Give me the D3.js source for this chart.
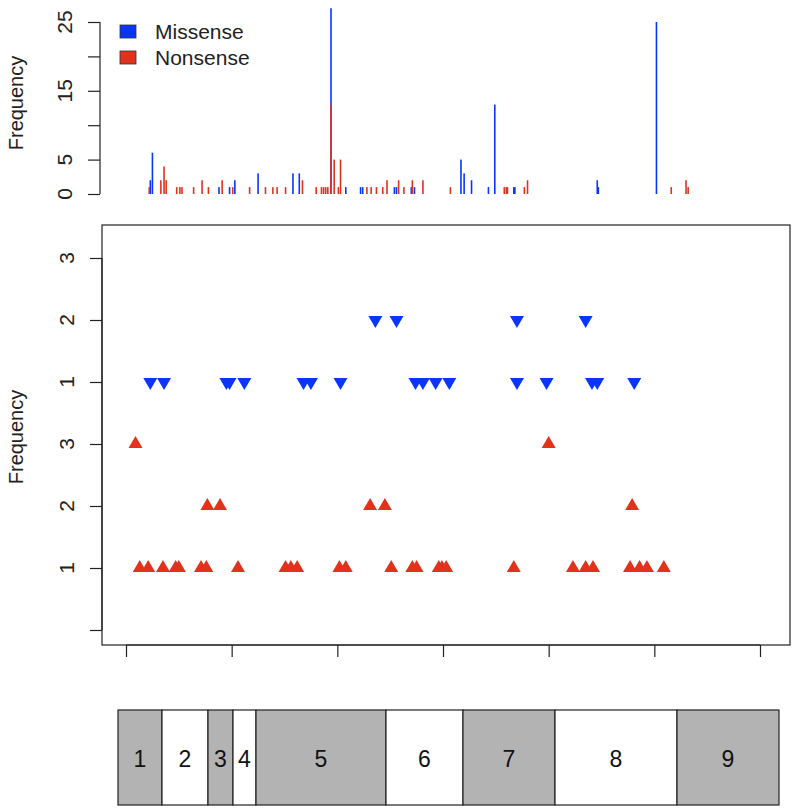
<!DOCTYPE html>
<html>
<head>
<meta charset="utf-8">
<script src="https://cdn.jsdelivr.net/npm/d3@7"></script>
<style>
  html, body { margin: 0; padding: 0; background: #fff; }
  svg { display: block; font-family: "Liberation Sans", Arial, Helvetica, sans-serif; }
</style>
</head>
<body>
<svg id="chart" width="800" height="811"></svg>
<script>
// ---------------- DATA ----------------
// Top panel: mutation frequencies by protein position
const missensePos  = [23, 25, 88, 98, 103, 125, 158, 164, 194, 208, 222, 224, 254, 256, 270, 273, 317, 320, 327, 343, 349, 367, 368, 446, 447, 502];
const missenseFreq = [2, 6, 1, 1, 2, 3, 3, 3, 27, 1, 1, 1, 1, 1, 1, 1, 5, 3, 2, 1, 13, 1, 1, 2, 1, 25];
const nonsensePos  = [22, 33, 36, 38, 48, 51, 53, 64, 72, 78, 91, 101, 117, 132, 139, 143, 151, 167, 180, 185, 187, 189, 191, 194, 197, 201, 203, 228, 232, 237, 243, 247, 258, 263, 271, 281, 307, 358, 360, 361, 377, 380, 516, 530, 532];
const nonsenseFreq = [1, 2, 4, 2, 1, 1, 1, 1, 2, 1, 2, 1, 1, 1, 1, 1, 1, 2, 1, 1, 1, 1, 1, 13, 5, 1, 5, 1, 1, 1, 1, 2, 2, 1, 2, 2, 1, 1, 1, 1, 1, 2, 1, 2, 1];
const topTicks      = [0, 5, 10, 15, 20, 25];
const topTickLabels = ["0", "5", "", "15", "", "25"];

// Middle panel: individual samples (position, frequency)
const missSamplePos  = [236, 256, 370, 435, 23, 36, 95, 98, 112, 168, 175, 203, 274, 281, 293, 306, 370, 398, 441, 446, 481];
const missSampleFreq = [2, 2, 2, 2, 1, 1, 1, 1, 1, 1, 1, 1, 1, 1, 1, 1, 1, 1, 1, 1, 1];
const nonSamplePos   = [9, 400, 77, 89, 231, 245, 479, 13, 21, 35, 47, 50, 71, 76, 106, 151, 156, 162, 202, 208, 251, 271, 275, 296, 299, 303, 367, 423, 435, 442, 477, 486, 493, 509];
const nonSampleFreq  = [3, 3, 2, 2, 2, 2, 2, 1, 1, 1, 1, 1, 1, 1, 1, 1, 1, 1, 1, 1, 1, 1, 1, 1, 1, 1, 1, 1, 1, 1, 1, 1, 1, 1];
const midTicks       = [0, 1, 2, 3, 4, 5, 6];
const midTickLabels  = ["", "1", "2", "3", "1", "2", "3"];
const xTicks         = [0, 100, 200, 300, 400, 500, 600];

// Bottom: exon structure
const exonNames   = ["1", "2", "3", "4", "5", "6", "7", "8", "9"];
const exonLengths = [44, 46, 25, 23, 130, 77, 92, 122, 102];

const legendLabels = ["Missense", "Nonsense"];

// ---------------- STYLE ----------------
const BLUE = "#0836ff";
const RED = "#e2321c";
const GRAY = "#b3b3b3";
const FONT = 20;
const TICKFONT = 21;

const svg = d3.select("#chart");

// shared x scale (positions)
const x = d3.scaleLinear().domain([0, 600]).range([126, 760]);

// ---------------- TOP PANEL ----------------
const yTop = d3.scaleLinear().domain([0, 25]).range([194, 22]);
const gTop = svg.append("g");

const topAxis = gTop.append("g").attr("transform", "translate(100,0)")
  .call(d3.axisLeft(yTop).tickValues(topTicks).tickSize(12).tickFormat(""));
topAxis.select(".domain").attr("d", `M0,${yTop(0)}V${yTop(25)}`).attr("stroke", "#222").attr("stroke-width", 1.2);
topAxis.selectAll(".tick line").attr("stroke", "#222").attr("stroke-width", 1.2);
gTop.selectAll("text.tl").data(topTicks).join("text")
  .attr("class", "tl")
  .attr("transform", d => `translate(72,${yTop(d)}) rotate(-90)`)
  .attr("text-anchor", "middle").attr("font-size", TICKFONT).attr("fill", "#222")
  .text((d, i) => topTickLabels[i]);

gTop.append("text")
  .attr("transform", `translate(23,103) rotate(-90)`)
  .attr("text-anchor", "middle").attr("font-size", FONT).attr("fill", "#222")
  .text("Frequency");

const missData = missensePos.map((p, i) => ({ p, f: missenseFreq[i] }));
const nonData = nonsensePos.map((p, i) => ({ p, f: nonsenseFreq[i] }));

gTop.selectAll("rect.mb").data(missData).join("rect")
  .attr("class", "mb")
  .attr("x", d => x(d.p) - 0.8).attr("width", 1.6)
  .attr("y", d => yTop(d.f)).attr("height", d => yTop(0) - yTop(d.f))
  .attr("fill", BLUE);
gTop.selectAll("rect.nb").data(nonData).join("rect")
  .attr("class", "nb")
  .attr("x", d => x(d.p) - 0.8).attr("width", 1.6)
  .attr("y", d => yTop(d.f)).attr("height", d => yTop(0) - yTop(d.f))
  .attr("fill", RED);

// legend
const leg = gTop.append("g");
[BLUE, RED].forEach((c, i) => {
  leg.append("rect").attr("x", 120).attr("y", 25 + i * 26).attr("width", 16).attr("height", 13)
    .attr("fill", c).attr("stroke", "#333").attr("stroke-width", 0.8);
  leg.append("text").attr("x", 155).attr("y", 39 + i * 26)
    .attr("font-size", 21).attr("fill", "#222").text(legendLabels[i]);
});

// ---------------- MIDDLE PANEL ----------------
const yMid = d3.scaleLinear().domain([0, 6]).range([630, 258]);
const boxL = 102, boxR = 790, boxT = 225, boxB = 645;
const gMid = svg.append("g");
gMid.append("rect").attr("x", boxL).attr("y", boxT).attr("width", boxR - boxL).attr("height", boxB - boxT)
  .attr("fill", "none").attr("stroke", "#222").attr("stroke-width", 1.2);

const midAxis = gMid.append("g").attr("transform", `translate(${boxL},0)`)
  .call(d3.axisLeft(yMid).tickValues(midTicks).tickSize(12).tickFormat(""));
midAxis.select(".domain").attr("d", `M0,${yMid(0)}V${yMid(6)}`).attr("stroke", "#222").attr("stroke-width", 1.2);
midAxis.selectAll(".tick line").attr("stroke", "#222").attr("stroke-width", 1.2);
gMid.selectAll("text.ml").data(midTicks).join("text")
  .attr("class", "ml")
  .attr("transform", d => `translate(74,${yMid(d)}) rotate(-90)`)
  .attr("text-anchor", "middle").attr("font-size", TICKFONT).attr("fill", "#222")
  .text((d, i) => midTickLabels[i]);

const xAxis = gMid.append("g").attr("transform", `translate(0,${boxB})`)
  .call(d3.axisBottom(x).tickValues(xTicks).tickSize(12).tickFormat(""));
xAxis.select(".domain").attr("d", `M${x(0)},0H${x(600)}`).attr("stroke", "#222").attr("stroke-width", 1.2);
xAxis.selectAll(".tick line").attr("stroke", "#222").attr("stroke-width", 1.2);

gMid.append("text")
  .attr("transform", `translate(23,437) rotate(-90)`)
  .attr("text-anchor", "middle").attr("font-size", FONT).attr("fill", "#222")
  .text("Frequency");

const tri = d3.symbol().type(d3.symbolTriangle).size(85);
const nonS = nonSamplePos.map((p, i) => ({ p, f: nonSampleFreq[i] }));
const missS = missSamplePos.map((p, i) => ({ p, f: missSampleFreq[i] }));
gMid.selectAll("path.nt").data(nonS).join("path")
  .attr("class", "nt").attr("d", tri)
  .attr("transform", d => `translate(${x(d.p)},${yMid(d.f)})`)
  .attr("fill", RED);
gMid.selectAll("path.mt").data(missS).join("path")
  .attr("class", "mt").attr("d", tri)
  .attr("transform", d => `translate(${x(d.p)},${yMid(d.f + 3)}) rotate(180)`)
  .attr("fill", BLUE);

// ---------------- EXONS ----------------
const cum = [0];
exonLengths.forEach(l => cum.push(cum[cum.length - 1] + l));
const xEx = d3.scaleLinear().domain([0, cum[cum.length - 1]]).range([118, 779]);
const gEx = svg.append("g");
const exData = exonNames.map((n, i) => ({ n, s: cum[i], e: cum[i + 1], i }));
gEx.selectAll("rect").data(exData).join("rect")
  .attr("x", d => xEx(d.s)).attr("width", d => xEx(d.e) - xEx(d.s))
  .attr("y", 710).attr("height", 95)
  .attr("fill", d => d.i % 2 === 0 ? GRAY : "#fff")
  .attr("stroke", "#222").attr("stroke-width", 1.2);
gEx.selectAll("text").data(exData).join("text")
  .attr("x", d => (xEx(d.s) + xEx(d.e)) / 2).attr("y", 767)
  .attr("text-anchor", "middle").attr("font-size", 23).attr("fill", "#111")
  .text(d => d.n);
</script>
</body>
</html>
